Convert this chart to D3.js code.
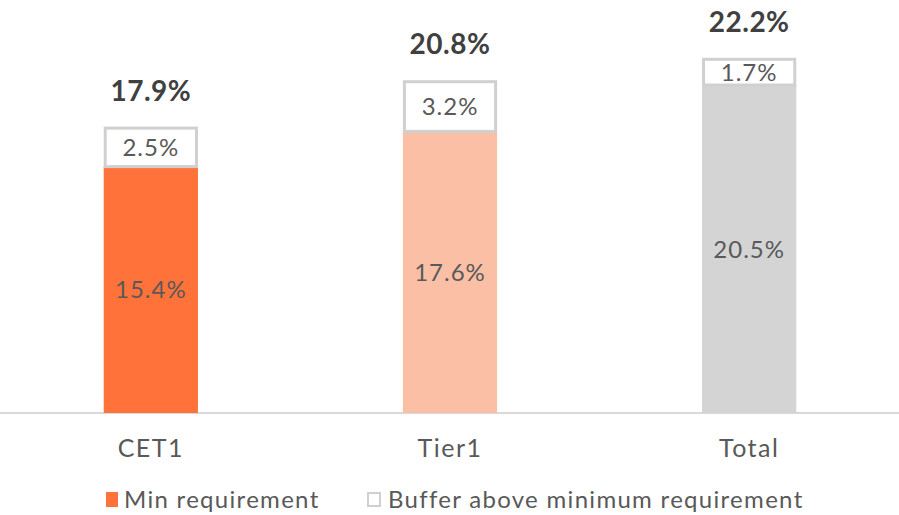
<!DOCTYPE html>
<html lang="en">
<head>
<meta charset="UTF-8">
<title>Capital ratios vs requirement</title>
<style>
    body { margin: 0; background: #fff; }
    svg { display: block; font-family: "Lato", "Noto Sans", sans-serif; }
    .val { fill: #595959; font-size: 24px; font-weight: 400; letter-spacing: 1px; }
    .total { fill: #404040; font-size: 28px; font-weight: bold; letter-spacing: 0.5px; }
    .cat { fill: #595959; font-size: 25px; font-weight: 400; letter-spacing: 1.5px; }
    .legend text { fill: #595959; font-size: 24px; font-weight: 400; letter-spacing: 1.3px; }
</style>
</head>
<body>
<script src="https://d3js.org/d3.v7.min.js"></script>
<script>
    const categories = ["CET1", "Tier1", "Total"];
    const minRequirement = [15.4, 17.6, 20.5];
    const buffer = [2.5, 3.2, 1.7];
    const totals = [17.9, 20.8, 22.2];
    const barColors = ["#FF733A", "#FBBFA6", "#D4D4D4"];

    const width = 899, height = 515;
    const svg = d3.select("body").append("svg")
        .attr("width", width)
        .attr("height", height);

    const x = d3.scaleBand().domain(categories).range([2, 898]).paddingInner(0.685).paddingOuter(0.34);
    const y = d3.scaleLinear().domain([0, 25]).range([413, 13]);

    const fmt = v => v.toFixed(1) + "%";

    // axis line
    svg.append("line")
        .attr("x1", 0).attr("x2", width)
        .attr("y1", y(0)).attr("y2", y(0))
        .attr("stroke", "#D9D9D9").attr("stroke-width", 2);

    const g = svg.selectAll(".bar")
        .data(categories)
        .enter().append("g")
        .attr("class", "bar");

    g.append("rect")
        .attr("x", d => x(d))
        .attr("width", x.bandwidth())
        .attr("y", (d, i) => y(minRequirement[i]))
        .attr("height", (d, i) => y(0) - y(minRequirement[i]))
        .attr("fill", (d, i) => barColors[i]);

    g.append("rect")
        .attr("x", d => x(d) + 1.5)
        .attr("width", x.bandwidth() - 3)
        .attr("y", (d, i) => y(minRequirement[i] + buffer[i]) + 1.5)
        .attr("height", (d, i) => y(minRequirement[i]) - y(minRequirement[i] + buffer[i]) - 1.5)
        .attr("fill", "#fff")
        .attr("stroke", "#D0D0D0")
        .attr("stroke-width", 3);

    g.append("text")
        .attr("class", "val")
        .attr("x", d => x(d) + x.bandwidth() / 2)
        .attr("y", (d, i) => (y(0) + y(minRequirement[i])) / 2)
        .attr("dy", "0.36em")
        .attr("text-anchor", "middle")
        .text((d, i) => fmt(minRequirement[i]));

    g.append("text")
        .attr("class", "val")
        .attr("x", d => x(d) + x.bandwidth() / 2)
        .attr("y", (d, i) => (y(minRequirement[i]) + y(minRequirement[i] + buffer[i])) / 2 + 1)
        .attr("dy", "0.36em")
        .attr("text-anchor", "middle")
        .text((d, i) => fmt(buffer[i]));

    g.append("text")
        .attr("class", "total")
        .attr("x", d => x(d) + x.bandwidth() / 2)
        .attr("y", (d, i) => y(totals[i]) - 26)
        .attr("text-anchor", "middle")
        .text((d, i) => fmt(totals[i]));

    g.append("text")
        .attr("class", "cat")
        .attr("x", d => x(d) + x.bandwidth() / 2)
        .attr("y", 457)
        .attr("text-anchor", "middle")
        .text(d => d);

    // legend
    const legend = svg.append("g").attr("class", "legend");
    legend.append("rect")
        .attr("x", 106).attr("y", 492).attr("width", 12).attr("height", 15)
        .attr("fill", barColors[0]);
    legend.append("text").attr("x", 124).attr("y", 508).text("Min requirement");
    legend.append("rect")
        .attr("x", 368).attr("y", 493).attr("width", 12).attr("height", 13)
        .attr("fill", "#fff").attr("stroke", "#D0D0D0").attr("stroke-width", 2);
    legend.append("text").attr("x", 388).attr("y", 508).text("Buffer above minimum requirement");
</script>
</body>
</html>
